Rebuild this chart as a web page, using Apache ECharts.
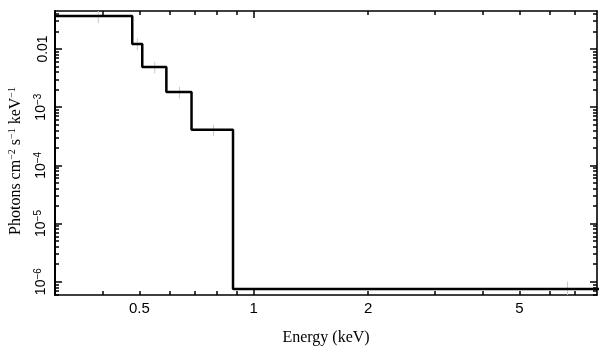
<!DOCTYPE html>
<html>
<head>
<meta charset="utf-8">
<script src="https://cdn.jsdelivr.net/npm/echarts@6/dist/echarts.min.js"></script>
<style>html,body{margin:0;padding:0;background:#fff}#c{width:609px;height:357px}</style>
</head>
<body>
<div id="c"></div>
<script>
// ---- data (energies in keV, flux in photons cm^-2 s^-1 keV^-1) ----
var binEdges    = [0.3, 0.479, 0.509, 0.589, 0.686, 0.882, 12.5];
var modelValues = [0.037, 0.0122, 0.0049, 0.00182, 0.00041, 7.5e-7];
var dataEnergy  = [0.39, 0.494, 0.549, 0.6375, 0.784, 6.69];
var dataValue   = [0.037, 0.0122, 0.0049, 0.00182, 0.00041, 7.5e-7];
var dataLow     = [0.0276, 0.0096, 0.0038, 0.00142, 0.00032, 1e-7];
var dataHigh    = [0.047, 0.0153, 0.0060, 0.00225, 0.00049, 1.0e-6];
var xRange = [0.3, 8];
var yRange = [5.9e-7, 0.045];
var xLabelValues = [0.5, 1, 2, 5];
var xMajorTicks = [1];
var xMinorTicks = [0.4, 0.5, 0.6, 0.7, 0.8, 0.9, 2, 3, 4, 5, 6, 7];
var yLabelValues = [1e-6, 1e-5, 1e-4, 1e-3, 1e-2];
var yLabelTexts = ['{n|10}{s|\u22126}', '{n|10}{s|\u22125}', '{n|10}{s|\u22124}', '{n|10}{s|\u22123}', '{n|0.01}'];

var L = Math.log10;
var yMinor = [];
[-7, -6, -5, -4, -3, -2].forEach(function (d) {
  for (var k = 2; k <= 9; k++) {
    var v = k * Math.pow(10, d);
    if (v > yRange[0] && v < yRange[1]) yMinor.push(L(v));
  }
});

var stepData = binEdges.map(function (e, i) {
  return [L(e), L(modelValues[Math.min(i, modelValues.length - 1)])];
});
var errData = dataEnergy.map(function (e, i) {
  return [L(e), L(dataValue[i]), L(dataLow[i]), L(dataHigh[i]), L(binEdges[i]), L(binEdges[i + 1])];
});

var AX = '#000';
function xAxisDef(pos, ticks, len, showLine, showLabel) {
  return {
    type: 'value', position: pos, min: L(xRange[0]), max: L(xRange[1]),
    axisLine: { show: showLine, onZero: false, lineStyle: { color: AX, width: 1.6 } },
    axisTick: { show: true, inside: true, length: len, customValues: ticks.map(L), lineStyle: { color: AX, width: 1.5 } },
    axisLabel: showLabel ? {
      show: true, margin: 6, customValues: xLabelValues.map(L),
      fontFamily: 'Liberation Sans', fontSize: 15, color: '#000',
      formatter: function (v) { return String(Math.round(Math.pow(10, v) * 10) / 10); }
    } : { show: false },
    splitLine: { show: false }
  };
}
function yAxisDef(pos, ticks, len, showLine, showLabel) {
  return {
    type: 'value', position: pos, min: L(yRange[0]), max: L(yRange[1]),
    axisLine: { show: showLine, onZero: false, lineStyle: { color: AX, width: pos === 'left' ? 2 : 1.6 } },
    axisTick: { show: true, inside: true, length: len, customValues: ticks, lineStyle: { color: AX, width: 1.5 } },
    axisLabel: showLabel ? {
      show: true, margin: 5, rotate: 90, customValues: yLabelValues.map(L),
      color: '#000',
      formatter: function (v) {
        var idx = 0, best = 1e9;
        yLabelValues.forEach(function (y, i) { var d = Math.abs(L(y) - v); if (d < best) { best = d; idx = i; } });
        return yLabelTexts[idx];
      },
      rich: {
        n: { fontFamily: 'Liberation Sans', fontSize: 14, color: '#000' },
        s: { fontFamily: 'Liberation Sans', fontSize: 10, color: '#000', padding: [0, 0, 7, 0] }
      }
    } : { show: false },
    splitLine: { show: false }
  };
}

var xAxes = [
  xAxisDef('bottom', xMajorTicks, 7, true, true),
  xAxisDef('bottom', xMinorTicks, 4, false, false),
  xAxisDef('top', xMajorTicks, 7, true, false),
  xAxisDef('top', xMinorTicks, 4, false, false)
];
xAxes[0].name = 'Energy (keV)';
xAxes[0].nameLocation = 'middle';
xAxes[0].nameGap = 35;
xAxes[0].nameTextStyle = { fontFamily: 'Liberation Serif', fontSize: 16, color: '#000' };

var yMajor = yLabelValues.map(L);
var yAxes = [
  yAxisDef('left', yMajor, 7, true, true),
  yAxisDef('left', yMinor, 4, false, false),
  yAxisDef('right', yMajor, 7, true, false),
  yAxisDef('right', yMinor, 4, false, false)
];
yAxes[0].name = '{a|Photons cm}{s|\u22122}{a| s}{s|\u22121}{a| keV}{s|\u22121}';
yAxes[0].nameLocation = 'middle';
yAxes[0].nameGap = 30;
yAxes[0].nameTextStyle = {
  padding: [0, 16, 0, 0],
  rich: {
    a: { fontFamily: 'Liberation Serif', fontSize: 16, color: '#000' },
    s: { fontFamily: 'Liberation Serif', fontSize: 10, color: '#000', padding: [0, 0, 8, 0] }
  }
};

var chart = echarts.init(document.getElementById('c'), null, { renderer: 'canvas' });
chart.setOption({
  animation: false,
  backgroundColor: '#fff',
  grid: { left: 55, right: 12, top: 11, bottom: 62, outerBoundsMode: 'none' },
  xAxis: xAxes,
  yAxis: yAxes,
  series: [
    {
      type: 'custom', xAxisIndex: 0, yAxisIndex: 0, z: 1, clip: true,
      data: errData,
      renderItem: function (params, api) {
        var cs = params.coordSys;
        function cy(y) { return Math.max(cs.y, Math.min(cs.y + cs.height, y)); }
        function cx(x) { return Math.max(cs.x, Math.min(cs.x + cs.width, x)); }
        var c = api.coord([api.value(0), api.value(1)]);
        var lo = api.coord([api.value(0), api.value(2)]);
        var hi = api.coord([api.value(0), api.value(3)]);
        var l = api.coord([api.value(4), api.value(1)]);
        var r = api.coord([api.value(5), api.value(1)]);
        var st = { stroke: '#c8c8c8', lineWidth: 1 };
        return {
          type: 'group',
          children: [
            { type: 'line', shape: { x1: c[0], y1: cy(lo[1]), x2: c[0], y2: cy(hi[1]) }, style: st },
            { type: 'line', shape: { x1: cx(l[0]), y1: c[1], x2: cx(r[0]), y2: c[1] }, style: st }
          ]
        };
      }
    },
    {
      type: 'line', xAxisIndex: 0, yAxisIndex: 0, z: 3, step: 'end', symbol: 'none',
      data: stepData,
      lineStyle: { color: '#000', width: 2.5 }
    }
  ]
});
</script>
</body>
</html>
